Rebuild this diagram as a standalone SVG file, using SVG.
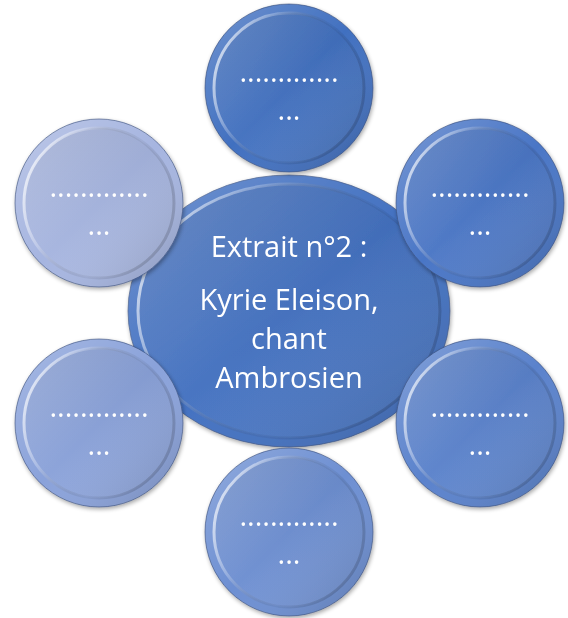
<svg xmlns="http://www.w3.org/2000/svg" width="568" height="618" viewBox="0 0 568 618">
<style>
.dots{font-family:"Open Sans","Liberation Sans",sans-serif;font-size:29px;fill:#fff;text-anchor:middle}
.ctr{font-family:"Open Sans","Liberation Sans",sans-serif;font-size:29px;fill:#fff;text-anchor:middle}
.edge{stroke:#3a4f7a;stroke-width:1;stroke-opacity:.6}
</style>
<defs>
<linearGradient id="rim" x1="0" y1="0" x2="1" y2="1">
<stop offset="0" stop-color="#fff" stop-opacity=".25"/>
<stop offset=".5" stop-color="#fff" stop-opacity="0"/>
<stop offset="1" stop-color="#000" stop-opacity=".2"/>
</linearGradient>
<linearGradient id="bevel" x1="0" y1="0" x2="1" y2="0.4">
<stop offset="0" stop-color="#fff" stop-opacity=".9"/>
<stop offset=".35" stop-color="#fff" stop-opacity=".25"/>
<stop offset=".7" stop-color="#000" stop-opacity=".05"/>
<stop offset="1" stop-color="#000" stop-opacity=".15"/>
</linearGradient>
<linearGradient id="face" x1="0" y1="0" x2="0" y2="1">
<stop offset="0" stop-color="#000" stop-opacity=".06"/>
<stop offset="1" stop-color="#fff" stop-opacity=".04"/>
</linearGradient>
<filter id="sh" x="-20%" y="-20%" width="140%" height="140%">
<feGaussianBlur in="SourceAlpha" stdDeviation="2"/>
<feOffset dx="1" dy="2" result="b"/>
<feComponentTransfer><feFuncA type="linear" slope=".35"/></feComponentTransfer>
<feMerge><feMergeNode/><feMergeNode in="SourceGraphic"/></feMerge>
</filter>
<g id="disc">
<circle r="84" class="edge" fill="url(#rim)"/>
<circle r="75" fill="url(#face)" stroke="url(#bevel)" stroke-width="3"/>
</g>
</defs>
<g id="connectors"/>
<g id="center" filter="url(#sh)">
<ellipse cx="289" cy="311" rx="161" ry="136" fill="#4371C1" class="edge"/>
<ellipse cx="289" cy="311" rx="161" ry="136" fill="url(#rim)"/>
<ellipse cx="289" cy="311" rx="151" ry="127" fill="url(#face)" stroke="url(#bevel)" stroke-width="3"/>
<text class="ctr" x="289" y="257">Extrait n°2 :</text>
<text class="ctr" x="289" y="310">Kyrie Eleison,</text>
<text class="ctr" x="289" y="349">chant</text>
<text class="ctr" x="289" y="388">Ambrosien</text>
</g>
<g id="n-top" filter="url(#sh)" transform="translate(289,88)">
<circle r="84" fill="#4170C0"/><use href="#disc"/>
<text class="dots" x="0" y="-6">.............</text><text class="dots" x="0" y="32">...</text>
</g>
<g id="n-right-top" filter="url(#sh)" transform="translate(480,203)">
<circle r="84" fill="#4A76C6"/><use href="#disc"/>
<text class="dots" x="0" y="-6">.............</text><text class="dots" x="0" y="32">...</text>
</g>
<g id="n-right-bottom" filter="url(#sh)" transform="translate(480,423)">
<circle r="84" fill="#5A82CC"/><use href="#disc"/>
<text class="dots" x="0" y="-6">.............</text><text class="dots" x="0" y="32">...</text>
</g>
<g id="n-bottom" filter="url(#sh)" transform="translate(289,532)">
<circle r="84" fill="#6D8FD2"/><use href="#disc"/>
<text class="dots" x="0" y="-6">.............</text><text class="dots" x="0" y="32">...</text>
</g>
<g id="n-left-bottom" filter="url(#sh)" transform="translate(99,423)">
<circle r="84" fill="#8AA2DA"/><use href="#disc"/>
<text class="dots" x="0" y="-6">.............</text><text class="dots" x="0" y="32">...</text>
</g>
<g id="n-left-top" filter="url(#sh)" transform="translate(99,203)">
<circle r="84" fill="#A6B5E0"/><use href="#disc"/>
<text class="dots" x="0" y="-6">.............</text><text class="dots" x="0" y="32">...</text>
</g>
</svg>
